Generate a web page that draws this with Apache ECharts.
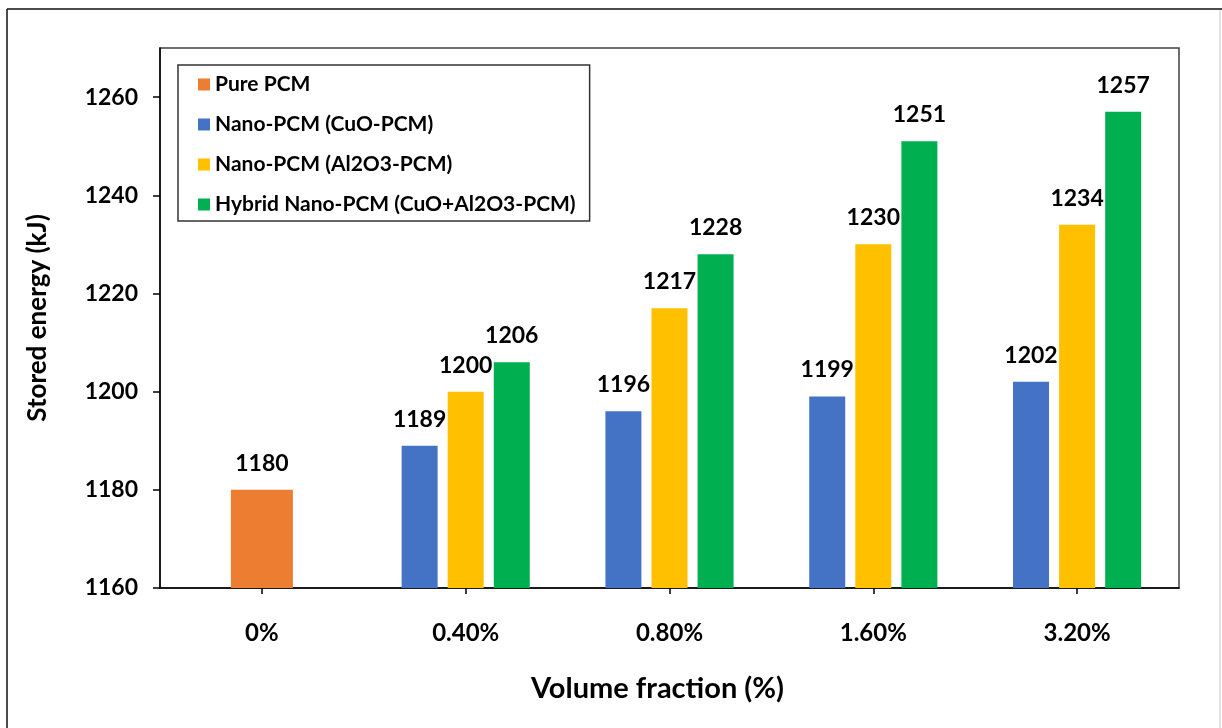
<!DOCTYPE html>
<html>
<head>
<meta charset="utf-8">
<script src="https://cdn.jsdelivr.net/npm/echarts@6/dist/echarts.min.js"></script>
<style>
  html, body { margin: 0; padding: 0; background: #fff; }
  #chart { width: 1222px; height: 728px; }
</style>
</head>
<body>
<div id="chart"></div>
<script>
// Volume fractions on the x axis
const categories = ['0%', '0.40%', '0.80%', '1.60%', '3.20%'];

// Stored energy (kJ) per material
const purePCM   = [1180, null, null, null, null];
const cuoPCM    = [null, 1189, 1196, 1199, 1202];
const al2o3PCM  = [null, 1200, 1217, 1230, 1234];
const hybridPCM = [null, 1206, 1228, 1251, 1257];

// Labelled ticks on the energy axis
const yTicks = [1160, 1180, 1200, 1220, 1240, 1260];

const FONT = 'Lato';

const chart = echarts.init(document.getElementById('chart'), null, { renderer: 'canvas' });

const valueLabel = {
  show: true,
  position: 'top',
  distance: 15,
  color: '#000',
  fontFamily: FONT,
  fontWeight: 'bold',
  fontSize: 23
};

chart.setOption({
  animation: false,
  backgroundColor: '#fff',
  textStyle: { fontFamily: FONT },
  grid: {
    left: 160, right: 43, top: 48, bottom: 140,
    show: true,
    borderColor: '#404040',
    borderWidth: 1.5,
    backgroundColor: 'transparent'
  },
  legend: {
    orient: 'vertical',
    left: 178,
    top: 65,
    backgroundColor: '#fff',
    borderColor: '#333',
    borderWidth: 1.5,
    borderRadius: 0,
    padding: [9, 14, 6, 20],
    itemGap: 19,
    itemWidth: 12,
    itemHeight: 12,
    icon: 'rect',
    textStyle: { fontFamily: FONT, fontWeight: 'bold', fontSize: 21, color: '#000' },
    data: ['Pure PCM', 'Nano-PCM (CuO-PCM)', 'Nano-PCM (Al2O3-PCM)', 'Hybrid Nano-PCM (CuO+Al2O3-PCM)']
  },
  xAxis: [
    {
      type: 'category',
      data: categories,
      boundaryGap: true,
      axisLine: { lineStyle: { color: '#000', width: 1.5 } },
      axisTick: { show: true, alignWithLabel: true, length: 6, lineStyle: { color: '#000', width: 1.5 } },
      axisLabel: { color: '#000', fontFamily: FONT, fontWeight: 'bold', fontSize: 24, margin: 33 },
      name: 'Volume fraction (%)',
      nameLocation: 'middle',
      nameGap: 86,
      nameTextStyle: {
        color: '#000', fontFamily: FONT, fontWeight: 'bold', fontSize: 29,
        padding: [0, 24, 0, 0]
      }
    },
    {
      type: 'category',
      data: categories,
      show: false
    }
  ],
  yAxis: {
    type: 'value',
    min: 1160,
    max: 1270,
    interval: 20,
    splitLine: { show: false },
    axisLine: { show: true, lineStyle: { color: '#000', width: 1.5 } },
    axisTick: { show: true, length: 7, customValues: yTicks, lineStyle: { color: '#000', width: 1.5 } },
    axisLabel: {
      color: '#000', fontFamily: FONT, fontWeight: 'bold', fontSize: 23, margin: 22,
      customValues: yTicks,
      formatter: (v) => String(v)
    },
    name: 'Stored energy (kJ)',
    nameLocation: 'middle',
    nameGap: 109,
    nameTextStyle: { color: '#000', fontFamily: FONT, fontWeight: 'bold', fontSize: 26 }
  },
  series: [
    {
      name: 'Pure PCM',
      type: 'bar',
      xAxisIndex: 1,
      data: purePCM,
      barWidth: 62,
      itemStyle: { color: '#ED7D31' },
      label: valueLabel
    },
    {
      name: 'Nano-PCM (CuO-PCM)',
      type: 'bar',
      xAxisIndex: 0,
      data: cuoPCM,
      barWidth: 36,
      barGap: '28%',
      itemStyle: { color: '#4472C4' },
      label: valueLabel
    },
    {
      name: 'Nano-PCM (Al2O3-PCM)',
      type: 'bar',
      xAxisIndex: 0,
      data: al2o3PCM,
      barWidth: 36,
      barGap: '28%',
      itemStyle: { color: '#FFC000' },
      label: valueLabel
    },
    {
      name: 'Hybrid Nano-PCM (CuO+Al2O3-PCM)',
      type: 'bar',
      xAxisIndex: 0,
      data: hybridPCM,
      barWidth: 36,
      barGap: '28%',
      itemStyle: { color: '#00B050' },
      label: valueLabel
    }
  ],
  graphic: [
    // outer frame around the figure
    { type: 'line', silent: true, shape: { x1: 7, y1: 9, x2: 1222, y2: 9 }, style: { stroke: '#111', lineWidth: 1.5 } },
    { type: 'line', silent: true, shape: { x1: 7, y1: 9, x2: 7, y2: 728 }, style: { stroke: '#111', lineWidth: 1.5 } },
    { type: 'line', silent: true, shape: { x1: 1220, y1: 10, x2: 1220, y2: 728 }, style: { stroke: '#c8c8c8', lineWidth: 1 } }
  ]
});
</script>
</body>
</html>
